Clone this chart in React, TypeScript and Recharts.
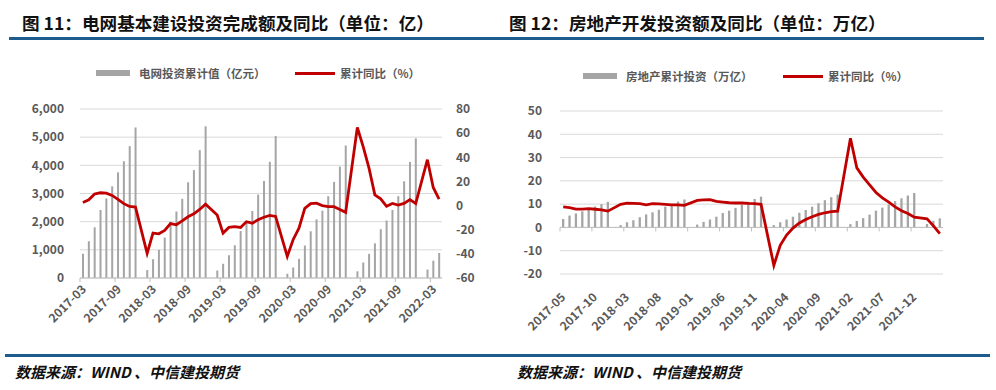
import { Bar, CartesianGrid, ComposedChart, Line, ReferenceLine, XAxis, YAxis } from "recharts";

const FONT = '"Noto Sans CJK SC", "Noto Sans", sans-serif';
const BAR_GREY = "#a5a5a5";
const LINE_RED = "#c00000";
const AXIS_TEXT = "#595959";

// 图11：电网基本建设投资完成额（亿元）及累计同比（%）
const gridMonths = [
  "2017-03", "2017-04", "2017-05", "2017-06", "2017-07", "2017-08", "2017-09", "2017-10", "2017-11", "2017-12",
  "2018-01", "2018-02", "2018-03", "2018-04", "2018-05", "2018-06", "2018-07", "2018-08", "2018-09", "2018-10", "2018-11", "2018-12",
  "2019-01", "2019-02", "2019-03", "2019-04", "2019-05", "2019-06", "2019-07", "2019-08", "2019-09", "2019-10", "2019-11", "2019-12",
  "2020-01", "2020-02", "2020-03", "2020-04", "2020-05", "2020-06", "2020-07", "2020-08", "2020-09", "2020-10", "2020-11", "2020-12",
  "2021-01", "2021-02", "2021-03", "2021-04", "2021-05", "2021-06", "2021-07", "2021-08", "2021-09", "2021-10", "2021-11", "2021-12",
  "2022-01", "2022-02", "2022-03", "2022-04",
];
const gridInvest = [
  865, 1305, 1800, 2415, 2825, 3255, 3750, 4145, 4680, 5345,
  null, 280, 668, 1000, 1436, 2000, 2360, 2812, 3398, 3830, 4540, 5385,
  null, 265, 505, 808, 1162, 1667, 2000, 2380, 2960, 3440, 4125, 5040,
  null, 150, 372, 680, 1152, 1660, 2080, 2390, 2905, 3410, 3955, 4705,
  null, 237, 550, 858, 1230, 1732, 2040, 2417, 2905, 3434, 4120, 4958,
  null, 300, 615, 888,
];
const gridYoy = [
  2.6, 4.8, 9.6, 10.6, 10.3, 8.4, 5.2, 1.6, -0.7, -1.3,
  null, -39.6, -22.8, -23.4, -20.6, -14.9, -15.9, -12.7, -9.3, -6.8, -3.2, 1.2,
  null, -7.8, -22.8, -18.1, -17.5, -18.1, -13.4, -14.6, -11.8, -9.7, -8.1, -9.0,
  null, -42.1, -28.3, -18.7, -2.3, 1.6, 2.0, 0.0, -0.9, -0.9, -3.2, -5.6,
  null, 64.7, 48.9, 31.0, 8.9, 5.6, -0.6, 1.7, 0.4, 1.8, 4.9, 1.7,
  null, 38.0, 15.0, 5.4,
];
const gridAmountTicks = [0, 1000, 2000, 3000, 4000, 5000, 6000];
const gridYoyTicks = [-60, -40, -20, 0, 20, 40, 60, 80];

// 图12：房地产开发投资额（万亿）及累计同比（%）
const estateMonths = [
  "2017-05", "2017-06", "2017-07", "2017-08", "2017-09", "2017-10", "2017-11", "2017-12",
  "2018-01", "2018-02", "2018-03", "2018-04", "2018-05", "2018-06", "2018-07", "2018-08", "2018-09", "2018-10", "2018-11", "2018-12",
  "2019-01", "2019-02", "2019-03", "2019-04", "2019-05", "2019-06", "2019-07", "2019-08", "2019-09", "2019-10", "2019-11", "2019-12",
  "2020-01", "2020-02", "2020-03", "2020-04", "2020-05", "2020-06", "2020-07", "2020-08", "2020-09", "2020-10", "2020-11", "2020-12",
  "2021-01", "2021-02", "2021-03", "2021-04", "2021-05", "2021-06", "2021-07", "2021-08", "2021-09", "2021-10", "2021-11", "2021-12",
  "2022-01", "2022-02", "2022-03", "2022-04",
];
const estateInvest = [
  3.6, 5.1, 6.0, 6.9, 8.0, 9.0, 10.0, 11.0,
  null, 1.0, 2.2, 3.1, 4.4, 5.6, 6.5, 7.6, 8.9, 9.9, 11.1, 12.0,
  null, 1.2, 2.4, 3.4, 4.6, 6.2, 7.2, 8.4, 9.8, 11.0, 12.2, 13.2,
  null, 1.0, 2.2, 3.4, 4.6, 6.3, 7.5, 8.9, 10.4, 11.7, 13.0, 14.1,
  null, 1.4, 2.8, 4.0, 5.5, 7.2, 8.5, 9.8, 11.3, 12.5, 13.7, 14.8,
  null, 1.5, 2.8, 3.9,
];
const estateYoy = [
  8.8, 8.5, 7.9, 7.9, 8.1, 7.8, 7.5, 7.0,
  null, 9.9, 10.4, 10.3, 10.2, 9.7, 10.2, 10.1, 9.9, 9.7, 9.7, 9.5,
  null, 11.6, 11.8, 11.9, 11.2, 10.9, 10.6, 10.5, 10.5, 10.3, 10.2, 9.9,
  null, -16.3, -7.7, -3.3, -0.3, 1.9, 3.4, 4.6, 5.6, 6.3, 6.8, 7.0,
  null, 38.3, 25.6, 21.6, 18.3, 15.0, 12.7, 10.9, 8.8, 7.2, 6.0, 4.4,
  null, 3.7, 0.7, -2.7,
];
const estateTicks = [-20, -10, 0, 10, 20, 30, 40, 50];

const gridData = gridMonths.map((m, i) => ({ month: m, amount: gridInvest[i], yoy: gridYoy[i] }));
const estateData = estateMonths.map((m, i) => ({ month: m, amount: estateInvest[i], yoy: estateYoy[i] }));

const tickText = { fontSize: 12, fontWeight: 700, fill: AXIS_TEXT, fontFamily: FONT };

// chart boxes
const L = { w: 500, h: 340, top: 109, bottom: 12, left: 20, right: 18, yw: 60, ryw: 40, xh: 50 };
const R = { w: 496, h: 340, top: 111, bottom: 16, left: 20, right: 53, yw: 40, xh: 50 };

function makeTick(band: number, markY: number, dx: number, dy: number) {
  return (p: any) => {
    const ax = p.x + dx;
    const ay = p.y + dy;
    const tx = p.x - band / 2;
    return (
      <g>
        <line x1={tx} x2={tx} y1={markY} y2={markY + 4} stroke="#bfbfbf" />
        <text x={ax} y={ay} textAnchor="end" transform={`rotate(-45, ${ax}, ${ay})`} {...tickText}>
          {p.payload.value}
        </text>
      </g>
    );
  };
}

function GridChart() {
  const plotW = L.w - L.left - L.yw - L.right - L.ryw;
  const plotBottom = L.h - L.bottom - L.xh;
  const band = plotW / gridMonths.length;
  return (
    <ComposedChart
      width={L.w}
      height={L.h}
      data={gridData}
      margin={{ top: L.top, right: L.right, bottom: L.bottom, left: L.left }}
    >
      <CartesianGrid stroke="#d9d9d9" vertical={false} />
      <XAxis
        dataKey="month"
        interval={5}
        height={L.xh}
        tickSize={0}
        tickMargin={0}
        tickLine={false}
        axisLine={{ stroke: "#bfbfbf" }}
        tick={makeTick(band, plotBottom, 4, 12)}
      />
      <YAxis
        width={L.yw}
        domain={[0, 6000]}
        ticks={gridAmountTicks}
        tickFormatter={(v: number) => v.toLocaleString("en-US")}
        axisLine={false}
        tickLine={false}
        tickMargin={10}
        tick={tickText}
      />
      <YAxis
        yAxisId="right"
        orientation="right"
        width={L.ryw}
        domain={[-60, 80]}
        ticks={gridYoyTicks}
        axisLine={false}
        tickLine={false}
        tickMargin={8}
        tick={{ ...tickText, textAnchor: "start" }}
      />
      <Bar dataKey="amount" name="电网投资累计值（亿元）" fill={BAR_GREY} barSize={2} isAnimationActive={false} />
      <Line
        yAxisId="right"
        dataKey="yoy"
        name="累计同比（%）"
        type="linear"
        stroke={LINE_RED}
        strokeWidth={2.8}
        dot={false}
        connectNulls
        isAnimationActive={false}
      />
    </ComposedChart>
  );
}

function EstateChart() {
  const plotW = R.w - R.left - R.yw - R.right;
  const plotH = R.h - R.top - R.bottom - R.xh;
  const zeroY = R.top + (50 / 70) * plotH;
  const band = plotW / estateMonths.length;
  return (
    <ComposedChart
      width={R.w}
      height={R.h}
      data={estateData}
      margin={{ top: R.top, right: R.right, bottom: R.bottom, left: R.left }}
    >
      <CartesianGrid stroke="#d9d9d9" vertical={false} />
      <XAxis
        dataKey="month"
        interval={4}
        height={R.xh}
        tickSize={0}
        tickMargin={0}
        tickLine={false}
        axisLine={false}
        tick={makeTick(band, zeroY, 3, 24)}
      />
      <YAxis
        width={R.yw}
        domain={[-20, 50]}
        ticks={estateTicks}
        axisLine={false}
        tickLine={false}
        tickMargin={12}
        tick={tickText}
      />
      <ReferenceLine y={0} stroke="#bfbfbf" />
      <Bar dataKey="amount" name="房地产累计投资（万亿）" fill={BAR_GREY} barSize={2.3} isAnimationActive={false} />
      <Line
        dataKey="yoy"
        name="累计同比（%）"
        type="linear"
        stroke={LINE_RED}
        strokeWidth={2.8}
        dot={false}
        connectNulls
        isAnimationActive={false}
      />
    </ComposedChart>
  );
}

function LegendRow({ left, top, barLabel, lineLabel, lineLeft }: any) {
  const text = { position: "absolute" as const, top: top - 8, fontSize: 11.5, fontWeight: 700, color: AXIS_TEXT, lineHeight: "16px", whiteSpace: "nowrap" as const };
  return (
    <>
      <div style={{ position: "absolute", left, top: top - 3, width: 34, height: 6, background: BAR_GREY }} />
      <div style={{ ...text, left: left + 43 }}>{barLabel}</div>
      <div style={{ position: "absolute", left: lineLeft, top: top - 1.5, width: 40, height: 3, background: LINE_RED }} />
      <div style={{ ...text, left: lineLeft + 45 }}>{lineLabel}</div>
    </>
  );
}

export default function App() {
  const title = { position: "absolute" as const, top: 13, fontSize: 17.6, fontWeight: 700, lineHeight: "20px", color: "#111", whiteSpace: "nowrap" as const };
  const source = { position: "absolute" as const, top: 363, fontSize: 15, fontWeight: 700, fontStyle: "italic", lineHeight: "18px", color: "#111", whiteSpace: "nowrap" as const };
  return (
    <div style={{ position: "absolute", left: 0, top: 0, width: 996, height: 390, background: "#fff", overflow: "hidden", fontFamily: FONT }}>
      <div style={{ ...title, left: 22 }}>图 11：电网基本建设投资完成额及同比（单位：亿）</div>
      <div style={{ ...title, left: 509 }}>图 12：房地产开发投资额及同比（单位：万亿）</div>
      <div style={{ position: "absolute", left: 9, top: 37, width: 975, height: 3, background: "#1f5c8e" }} />

      <div style={{ position: "absolute", left: 0, top: 0 }}>
        <GridChart />
      </div>
      <div style={{ position: "absolute", left: 500, top: 0 }}>
        <EstateChart />
      </div>

      <LegendRow left={96} top={73} barLabel="电网投资累计值（亿元）" lineLabel="累计同比（%）" lineLeft={295} />
      <LegendRow left={583} top={76} barLabel="房地产累计投资（万亿）" lineLabel="累计同比（%）" lineLeft={783} />

      <div style={{ position: "absolute", left: 5, top: 354, width: 985, height: 3, background: "#1f5c8e" }} />
      <div style={{ ...source, left: 15 }}>数据来源：WIND 、中信建投期货</div>
      <div style={{ ...source, left: 517 }}>数据来源：WIND 、中信建投期货</div>
    </div>
  );
}
